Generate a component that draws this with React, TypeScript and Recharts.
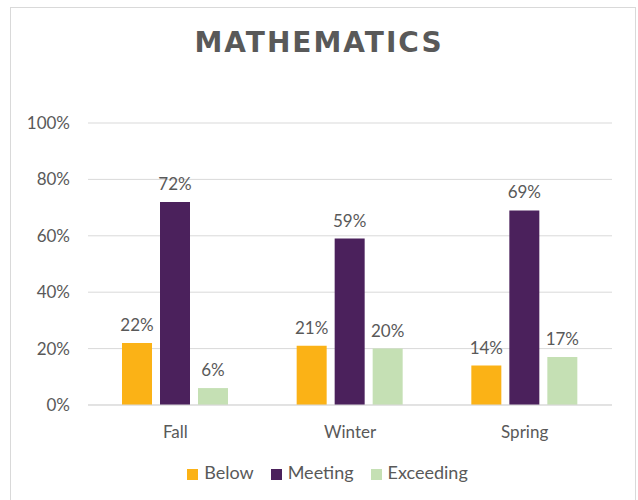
import React from "react";
import { BarChart, Bar, XAxis, YAxis, CartesianGrid, Legend, LabelList } from "recharts";

const categories = ["Fall", "Winter", "Spring"];
const below = [22, 21, 14];
const meeting = [72, 59, 69];
const exceeding = [6, 20, 17];
const yTicks = [0, 20, 40, 60, 80, 100];
const seriesOrder = ["Below", "Meeting", "Exceeding"];

const data = categories.map((c, i) => ({
  name: c,
  Below: below[i],
  Meeting: meeting[i],
  Exceeding: exceeding[i],
}));

const FONT = "Lato, 'Noto Sans', sans-serif";
const TEXT = "#595959";
const pct = (v: any) => `${v}%`;

export default function App() {
  return (
    <div style={{ position: "absolute", left: 0, top: 0, width: 638, height: 500, background: "#fff", overflow: "hidden" }}>
      <div style={{ position: "absolute", left: 10, top: 7, width: 626, height: 510, border: "1px solid #D9D9D9", boxSizing: "border-box" }} />
      <div style={{ position: "absolute", left: 0, top: 26, width: 638, textAlign: "center", fontFamily: "'DejaVu Sans', sans-serif", fontWeight: 700, fontSize: 28, letterSpacing: 2, color: TEXT }}>
        MATHEMATICS
      </div>
      <div style={{ position: "absolute", left: 0, top: 0 }}>
        <BarChart width={638} height={500} data={data} margin={{ top: 123, right: 26, bottom: 65, left: 10 }} barSize={30} barGap={8}>
          <CartesianGrid vertical={false} stroke="#D9D9D9" />
          <XAxis dataKey="name" tickLine={false} axisLine={{ stroke: "#D9D9D9" }} tick={{ fill: TEXT, fontSize: 17, fontFamily: FONT }} tickMargin={15} height={30} />
          <YAxis domain={[0, 100]} ticks={yTicks} tickFormatter={pct} tickLine={false} axisLine={false} width={78} tickMargin={12} tick={{ fill: TEXT, fontSize: 17, fontFamily: FONT }} />
          <Legend
            verticalAlign="middle"
            align="center"
            iconType="square"
            iconSize={11}
            itemSorter={(item: any) => seriesOrder.indexOf(item.value)}
            wrapperStyle={{ top: 461, left: 35, fontFamily: FONT, fontSize: 18 }}
            formatter={(v: any) => <span style={{ color: TEXT, marginLeft: 2, marginRight: 7 }}>{v}</span>}
          />
          <Bar dataKey="Below" fill="#FBB216" isAnimationActive={false}>
            <LabelList dataKey="Below" position="top" offset={12} formatter={pct} style={{ fill: TEXT, fontSize: 17, fontFamily: FONT }} />
          </Bar>
          <Bar dataKey="Meeting" fill="#4B215C" isAnimationActive={false}>
            <LabelList dataKey="Meeting" position="top" offset={12} formatter={pct} style={{ fill: TEXT, fontSize: 17, fontFamily: FONT }} />
          </Bar>
          <Bar dataKey="Exceeding" fill="#C5E0B4" isAnimationActive={false}>
            <LabelList dataKey="Exceeding" position="top" offset={12} formatter={pct} style={{ fill: TEXT, fontSize: 17, fontFamily: FONT }} />
          </Bar>
        </BarChart>
      </div>
    </div>
  );
}
